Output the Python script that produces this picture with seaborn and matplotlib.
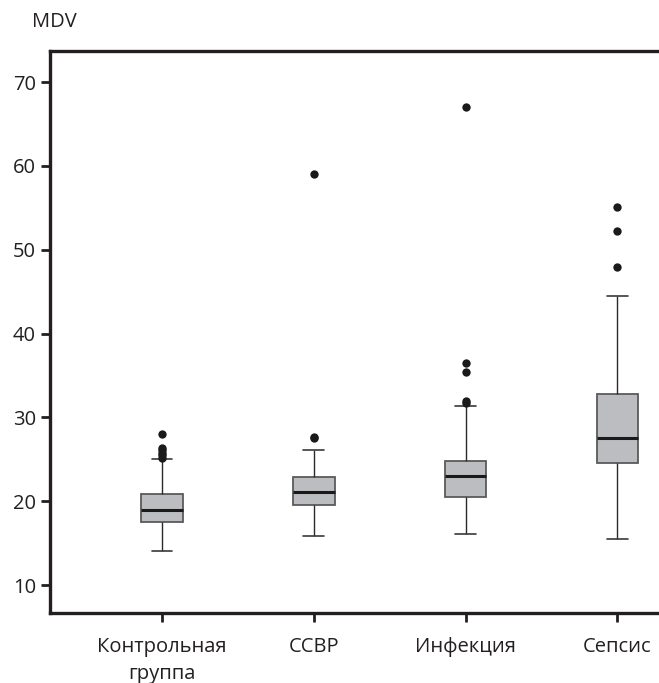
import numpy as np
import pandas as pd
import matplotlib
matplotlib.use("Agg")
import matplotlib.pyplot as plt
import seaborn as sns

# ---------------------------------------------------------
# DATA
# ---------------------------------------------------------
groups = ["Контрольная\nгруппа", "ССВР", "Инфекция", "Сепсис"]

# whisker low, Q1, median, Q3, whisker high
control_box = [14.1, 17.55, 19.0, 20.8, 25.0]
ssvr_box = [15.85, 19.6, 21.1, 22.9, 26.1]
infect_box = [16.1, 20.5, 23.0, 24.8, 31.4]
sepsis_box = [15.45, 24.6, 27.5, 32.8, 44.5]

control_out = [25.2, 25.5, 25.8, 26.1, 26.4, 28.0]
ssvr_out = [27.5, 27.7, 59.0]
infect_out = [31.7, 31.9, 35.4, 36.5, 67.0]
sepsis_out = [47.9, 52.2, 55.1]

yticks = [10, 20, 30, 40, 50, 60, 70]

# ---------------------------------------------------------
# FRAMES
# ---------------------------------------------------------
box_df = pd.DataFrame({
    "group": np.repeat(groups, 5),
    "MDV": control_box + ssvr_box + infect_box + sepsis_box,
})
out_df = pd.DataFrame({
    "group": [groups[0]] * len(control_out) + [groups[1]] * len(ssvr_out)
             + [groups[2]] * len(infect_out) + [groups[3]] * len(sepsis_out),
    "MDV": control_out + ssvr_out + infect_out + sepsis_out,
})

# ---------------------------------------------------------
# PLOT
# ---------------------------------------------------------
sns.set_style("white")
plt.rcParams["font.family"] = ["Open Sans", "DejaVu Sans"]
ink = "#231f20"
fs = 14.5

fig = plt.figure(figsize=(6.59, 6.83), dpi=100)
ax = fig.add_axes([50 / 659, 1 - 613 / 683, 1 - 50 / 659, (613 - 51) / 683])

sns.boxplot(data=box_df, x="group", y="MDV", order=groups, ax=ax,
            whis=(0, 100), showfliers=False, width=0.275, saturation=1,
            color="#bcbdc1", linecolor="#5a5a5a", linewidth=1.3,
            medianprops=dict(color="#1a1a1a", linewidth=2.2),
            whiskerprops=dict(color="#2a2a2a", linewidth=1.0),
            capprops=dict(color="#3a3a3a", linewidth=1.2))

sns.stripplot(data=out_df, x="group", y="MDV", order=groups, ax=ax,
              jitter=False, color="#1a1a1a", size=6, linewidth=0)

ax.set_xlim(-0.738, 3.274)
ax.set_ylim(6.66, 73.7)
ax.set_yticks(yticks)
ax.set_xlabel("")
ax.set_ylabel("")

for side in ["left", "top", "bottom"]:
    ax.spines[side].set_visible(True)
    ax.spines[side].set_color(ink)
    ax.spines[side].set_linewidth(2.4)
ax.spines["right"].set_visible(False)

ax.tick_params(axis="both", which="major", direction="out", length=6.5,
               width=2.0, color=ink, labelcolor=ink, labelsize=fs)
ax.tick_params(axis="y", pad=3.5, left=True)
ax.tick_params(axis="x", pad=10.5, bottom=True)
for lab in ax.get_xticklabels():
    lab.set_linespacing(1.5)

fig.text(32 / 659, 1 - 22 / 683, "MDV", fontsize=fs, color=ink,
         ha="left", va="center")

fig.savefig("out.png", dpi=100)
